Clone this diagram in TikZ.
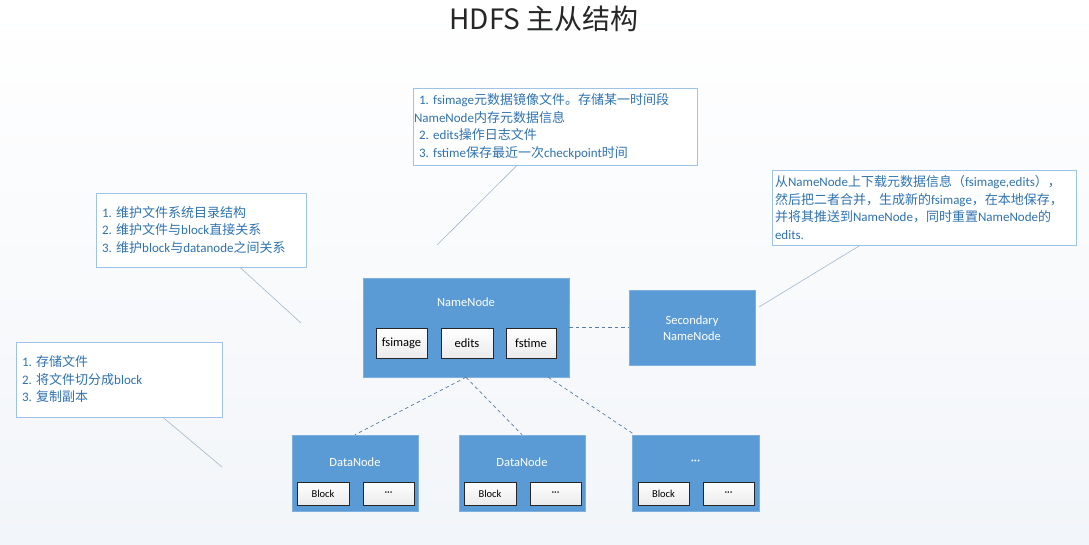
\documentclass[tikz,border=0pt]{standalone}
\usepackage{fontspec}
\setmainfont{Carlito}
\newfontfamily\cjk{Noto Sans CJK SC}
\newcommand\zh[1]{{\cjk #1}}
\usetikzlibrary{shadows}
\definecolor{nodeblue}{HTML}{5B9BD5}
\definecolor{nodeedge}{HTML}{7EB0DF}
\definecolor{calltext}{HTML}{2E72B0}
\definecolor{callborder}{HTML}{9DC3E6}
\definecolor{leader}{HTML}{A3B8CC}
\definecolor{dashcol}{HTML}{5A7CA0}
\definecolor{bgbottom}{HTML}{F2F5F9}
\frenchspacing
\tikzset{
  callout/.style={draw=callborder, fill=white, line width=0.8pt, text=calltext,
    align=left, inner ysep=0pt, font=\fontsize{13}{17.5}\selectfont,
    drop shadow={opacity=0.12, shadow xshift=1.2pt, shadow yshift=-1.2pt}},
  leaderline/.style={draw=leader, line width=0.6pt},
  bluebox/.style={fill=nodeblue, draw=nodeedge, line width=0.6pt, inner sep=0pt},
  whitelabel/.style={text=white, font=\fontsize{12.5}{15}\selectfont, inner sep=0pt, align=center},
  innerbox/.style={draw=black!85, line width=0.6pt, top color=white, bottom color=black!8,
    inner sep=0pt, font=\fontsize{12.5}{14}\selectfont},
  smallbox/.style={innerbox, font=\fontsize{10.5}{12}\selectfont},
  dashlink/.style={draw=dashcol, line width=0.7pt, dash pattern=on 3.5pt off 3pt},
}
\begin{document}
\begin{tikzpicture}[x=1pt, y=-1pt]
\useasboundingbox (0,0) rectangle (1089,544);
\shade[top color=white, bottom color=bgbottom] (0,0) rectangle (1089,544);

% title
\node[font=\cjk\fontsize{28}{30}\selectfont, text=black!85, inner sep=0pt] (title) at (544,19) {HDFS\hspace{6pt}主从结构};

% callouts
\node[callout, inner xsep=1pt, text width=282pt, minimum height=77pt] (topbox) at (555,126.5) {%
\hspace*{5pt}1. fsimage\zh{元数据镜像文件。存储某一时间段}\\
NameNode\zh{内存元数据信息}\\
\hspace*{5pt}2. edits\zh{操作日志文件}\\
\hspace*{5pt}3. fstime\zh{保存最近一次}checkpoint\zh{时间}};

\node[callout, inner xsep=6pt, text width=198pt, minimum height=74pt] (leftbox) at (201,230) {%
1. \zh{维护文件系统目录结构}\\
2. \zh{维护文件与}block\zh{直接关系}\\
3. \zh{维护}block\zh{与}datanode\zh{之间关系}};

\node[callout, inner xsep=3pt, text width=298pt, minimum height=75pt] (rightbox) at (924,207.5) {%
\zh{从}NameNode\zh{上下载元数据信息（}fsimage,edits\zh{），}\\
\zh{然后把二者合并，生成新的}fsimage\zh{，在本地保存，}\\
\zh{并将其推送到}NameNode\zh{，同时重置}NameNode\zh{的}\\
edits.};

\node[callout, inner xsep=6pt, text width=194pt, minimum height=75pt] (dnbox) at (119,379.5) {%
1. \zh{存储文件}\\
2. \zh{将文件切分成}block\\
3. \zh{复制副本}};

% NameNode
\node[bluebox, minimum width=206pt, minimum height=99pt] (nn) at (466,327.5) {};
\node[whitelabel] (nnlabel) at (466,302) {NameNode};
\node[innerbox, minimum width=51pt, minimum height=30pt] (fsimage) at (401.5,343) {fsimage};
\node[innerbox, minimum width=52pt, minimum height=30pt] (edits) at (467,343) {edits};
\node[innerbox, minimum width=50pt, minimum height=30pt] (fstime) at (531,343) {fstime};

% Secondary NameNode
\node[bluebox, minimum width=126pt, minimum height=75pt] (snn) at (692,327.5) {};
\node[whitelabel, font=\fontsize{12.5}{16}\selectfont] (snnlabel) at (692,328) {Secondary\\NameNode};

% DataNodes
\node[bluebox, minimum width=126pt, minimum height=76pt] (dn1) at (355,473) {};
\node[whitelabel] (dn1label) at (355,462) {DataNode};
\node[smallbox, minimum width=52pt, minimum height=23pt] (b1) at (323,493.5) {Block};
\node[smallbox, minimum width=51pt, minimum height=23pt] (d1) at (388.5,493.5) {···};

\node[bluebox, minimum width=126pt, minimum height=76pt] (dn2) at (522,473) {};
\node[whitelabel] (dn2label) at (522,462) {DataNode};
\node[smallbox, minimum width=52pt, minimum height=23pt] (b2) at (490,493.5) {Block};
\node[smallbox, minimum width=51pt, minimum height=23pt] (d2) at (555.5,493.5) {···};

\node[bluebox, minimum width=127pt, minimum height=76pt] (dn3) at (695.5,473) {};
\node[whitelabel] (dn3label) at (695.5,462) {···};
\node[smallbox, minimum width=51pt, minimum height=23pt] (b3) at (663.5,493.5) {Block};
\node[smallbox, minimum width=51pt, minimum height=23pt] (d3) at (728.5,493.5) {···};

% dashed links
\draw[dashlink] (nn.east) -- (snn.west);
\draw[dashlink] (nn.south) -- (dn1.north);
\draw[dashlink] (nn.south) -- (dn2.north);
\draw[dashlink] ([xshift=-21pt]nn.south east) -- ([xshift=3pt]dn3.north west);

% leader lines
\coordinate (tipTop) at (437,245);
\coordinate (tipLeft) at (301,323);
\coordinate (tipRight) at (759,307);
\coordinate (tipDn) at (222,467);
\draw[leaderline] ([xshift=-38pt]topbox.south) -- (tipTop);
\draw[leaderline] ([xshift=39pt]leftbox.south) -- (tipLeft);
\draw[leaderline] ([xshift=-64pt]rightbox.south) -- (tipRight);
\draw[leaderline] ([xshift=44pt]dnbox.south) -- (tipDn);
\end{tikzpicture}
\end{document}
